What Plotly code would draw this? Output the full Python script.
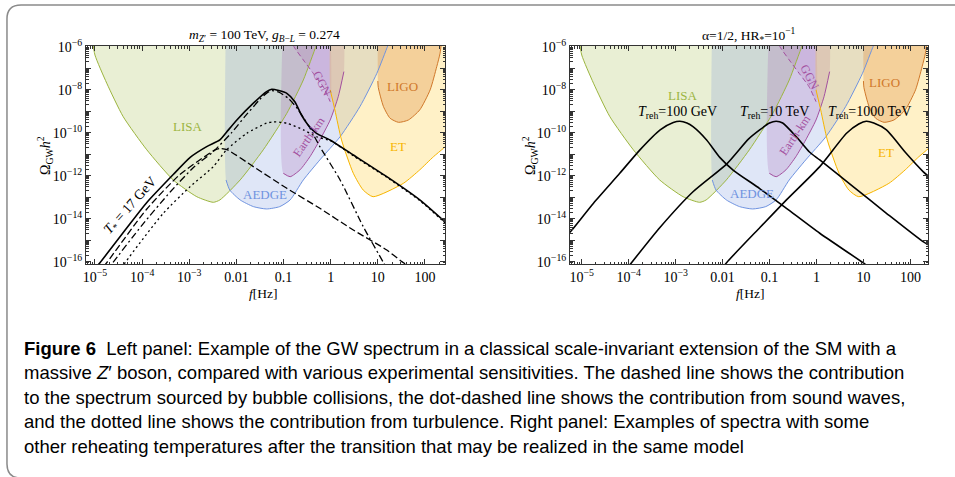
import numpy as np
import plotly.graph_objects as go

# ---- detector sensitivity curves (log10 f[Hz], log10 Omega h^2) ----
lisa_lf = [-5.06, -5.0, -4.75, -4.40, -3.90, -3.34, -2.84, -2.49, -2.35, -1.92, -1.43, -0.93, -0.58, -0.30, -0.22]
lisa_lo = [-5.6, -6.39, -7.70, -9.26, -10.80, -12.20, -12.98, -13.24, -13.13, -12.2, -10.8, -9.1, -7.55, -5.92, -5.5]

aedge_edge = -2.22
aedge_lf = [-2.22, -2.14, -1.92, -1.64, -1.36, -1.08, -0.86, -0.58, -0.23, 0.20, 0.62, 0.98, 1.22, 1.35]
aedge_lo = [-12.2, -12.67, -13.13, -13.44, -13.55, -13.44, -13.13, -12.2, -11.27, -10.19, -8.79, -7.24, -5.92, -5.3]

earth_edge = [-1.005, 0.28]
earth_lf = [-1.005, -0.86, -0.65, -0.44, -0.23, -0.01, 0.16, 0.28]
earth_lo = [-11.89, -12.05, -11.73, -11.12, -10.34, -9.41, -8.33, -7.16]

ggn_edge = -0.01
ggn_lf = [-0.86, -0.78, -0.58, -0.37, -0.16, -0.01]
ggn_lo = [-5.6, -6.0, -6.62, -7.24, -7.86, -8.56]

et_edge = -0.01
et_lf = [-0.01, 0.09, 0.23, 0.48, 0.69, 0.90, 1.54, 1.89, 2.18, 2.39, 2.6]
et_lo = [-8.01, -8.95, -10.34, -11.89, -12.67, -12.98, -12.36, -11.73, -11.12, -10.73, -10.3]

ligo_edge = 1.0
ligo_lf = [1.0, 1.01, 1.12, 1.26, 1.44, 1.65, 1.89, 2.11, 2.25, 2.32, 2.36]
ligo_lo = [-7.6, -7.9, -8.79, -9.33, -9.52, -9.41, -8.94, -8.01, -6.93, -6.31, -5.6]

# ---- left panel spectra ----
tot_lf = [-5.3, -4.894, -4.33, -3.9, -3.34, -2.98, -2.63, -2.35, -2.21, -1.99, -1.64, -1.36, -1.25, -1.1, -0.93, -0.76, -0.62, -0.48, -0.30, -0.015, 0.48, 1.19, 1.89, 2.5]
tot_lo = [-17.1, -16.05, -14.45, -13.25, -11.95, -11.15, -10.65, -10.34, -9.98, -9.41, -8.63, -8.09, -7.98, -8.04, -8.17, -8.56, -9.18, -9.64, -10.03, -10.34, -11.04, -12.05, -13.13, -14.3]

bub_lf = [-4.95, -4.75, -3.9, -3.2, -2.63, -2.45, -2.35, -2.2, -1.64, -0.93, -0.23, 0.48, 1.19, 1.51, 1.8]
bub_lo = [-16.6, -16.05, -13.55, -11.95, -11.05, -10.8, -10.74, -10.79, -11.58, -12.59, -13.52, -14.53, -15.46, -16.0, -16.4]

sw_lf = [-4.8, -4.62, -4.0, -3.4, -2.9, -2.5, -2.1, -1.8, -1.5, -1.35, -1.25, -1.1, -0.9, -0.7, -0.45, -0.23, 0.2, 0.69, 1.12, 1.4]
sw_lo = [-16.6, -16.05, -14.3, -12.75, -11.6, -10.9, -10.0, -9.2, -8.45, -8.15, -8.05, -8.12, -8.4, -8.9, -9.75, -10.65, -12.2, -14.37, -16.05, -17.2]

turb_lf = [-4.6, -4.36, -3.55, -2.98, -2.49, -2.21, -1.78, -1.36, -1.22, -0.93, -0.58, -0.30, 0.0, 0.48, 1.19, 1.89, 2.5]
turb_lo = [-16.9, -16.05, -13.75, -12.51, -11.58, -10.80, -10.03, -9.56, -9.50, -9.56, -9.87, -10.19, -10.38, -11.08, -12.08, -13.16, -14.35]

# ---- right panel spectra ----
r100_lf = [-5.3, -5.21, -4.75, -4.19, -3.76, -3.33, -3.05, -2.91, -2.76, -2.63, -2.34, -2.06, -1.77, -1.21, -0.64, 0.07, 0.99, 1.2]
r100_lo = [-14.75, -14.53, -13.28, -11.89, -10.80, -9.87, -9.53, -9.47, -9.55, -9.72, -10.34, -11.15, -11.75, -12.6, -13.52, -14.68, -16.05, -16.4]

r10_lf = [-4.1, -3.94, -3.33, -2.63, -1.91, -1.45, -1.21, -1.0, -0.86, -0.72, -0.43, -0.15, 0.07, 0.78, 1.49, 2.27, 2.45]
r10_lo = [-16.5, -16.05, -14.4, -12.75, -11.45, -10.3, -9.87, -9.55, -9.47, -9.55, -10.19, -10.9, -11.27, -12.51, -13.75, -15.07, -15.3]

r1000_lf = [-2.1, -1.915, -1.2, -0.64, 0.07, 0.64, 0.9, 1.06, 1.22, 1.49, 1.91, 2.27, 2.45]
r1000_lo = [-16.6, -16.05, -14.4, -13.13, -11.58, -10.03, -9.6, -9.47, -9.55, -9.87, -10.96, -11.81, -12.15]

x_tickvals = [1e-5, 1e-4, 1e-3, 1e-2, 1e-1, 1, 10, 100]
x_ticktext = ["10<sup>\u22125</sup>", "10<sup>\u22124</sup>", "10<sup>\u22123</sup>", "0.01", "0.1", "1", "10", "100"]
y_tickvals = [10.0**n for n in range(-16, -5)]
y_ticktext = ["10<sup>\u2212%d</sup>" % (-n) if n % 2 == 0 else "" for n in range(-16, -5)]

TOP = -4.5
SERIF = "Liberation Serif, Times New Roman, serif"

C_LISA, F_LISA = "#9cb53f", "rgba(154,180,60,0.22)"
C_AEDGE, F_AEDGE = "#6f93e0", "rgba(110,140,220,0.22)"
C_EARTH, F_EARTH = "#a3509f", "rgba(160,80,170,0.20)"
F_GGN = "rgba(160,80,170,0.14)"
C_ET, F_ET = "#f7b500", "rgba(255,200,30,0.25)"
C_LIGO, F_LIGO = "#d0782a", "rgba(220,140,60,0.32)"

fig = go.Figure()


def pw(v):
    return 10 ** np.array(v, dtype=float)


def region(lf, lo, fill, xa, ya):
    fig.add_trace(go.Scatter(x=pw(lf), y=pw(lo), mode="lines", fill="toself", fillcolor=fill,
                             line=dict(width=0, shape="spline", smoothing=0.6),
                             hoverinfo="skip", xaxis=xa, yaxis=ya))


def curve(lf, lo, color, xa, ya, dash="solid", width=1.3):
    fig.add_trace(go.Scatter(x=pw(lf), y=pw(lo), mode="lines",
                             line=dict(color=color, width=width, dash=dash, shape="spline", smoothing=0.6),
                             hoverinfo="skip", xaxis=xa, yaxis=ya))


for xa, ya in [("x", "y"), ("x2", "y2")]:
    region(lisa_lf, lisa_lo, F_LISA, xa, ya)
    region([aedge_edge] + aedge_lf, [TOP] + aedge_lo, F_AEDGE, xa, ya)
    region([earth_edge[0]] + earth_lf + [earth_edge[1]], [TOP] + earth_lo + [TOP], F_EARTH, xa, ya)
    region(ggn_lf + [ggn_edge], ggn_lo + [TOP], F_GGN, xa, ya)
    region([et_edge] + et_lf + [et_lf[-1]], [TOP] + et_lo + [TOP], F_ET, xa, ya)
    region([ligo_edge] + ligo_lf, [TOP] + ligo_lo, F_LIGO, xa, ya)
    curve(lisa_lf, lisa_lo, C_LISA, xa, ya, width=1)
    curve(aedge_lf, aedge_lo, C_AEDGE, xa, ya, width=1)
    curve(earth_lf, earth_lo, C_EARTH, xa, ya, width=1)
    curve(ggn_lf, ggn_lo, C_EARTH, xa, ya, dash="5px,3px", width=1)
    curve(et_lf, et_lo, C_ET, xa, ya, width=1)
    curve(ligo_lf, ligo_lo, C_LIGO, xa, ya, width=1)

curve(bub_lf, bub_lo, "black", "x", "y", dash="7px,3px")
curve(sw_lf, sw_lo, "black", "x", "y", dash="7px,3px,2px,3px")
curve(turb_lf, turb_lo, "black", "x", "y", dash="2px,3px")
curve(tot_lf, tot_lo, "black", "x", "y", width=1.6)

curve(r100_lf, r100_lo, "black", "x2", "y2", width=1.6)
curve(r10_lf, r10_lo, "black", "x2", "y2", width=1.6)
curve(r1000_lf, r1000_lo, "black", "x2", "y2", width=1.6)

minor_x = [k * 10.0**n for n in range(-6, 3) for k in range(2, 10)]
minor_y = [k * 10.0**n for n in range(-17, -5) for k in range(2, 10)]

axis_common = dict(type="log", showgrid=False, zeroline=False, showline=True, linecolor="#333",
                   linewidth=1, mirror="ticks", ticks="inside", ticklen=5, tickcolor="#333",
                   automargin=False,
                   tickfont=dict(family=SERIF, size=14, color="black"))
xax = dict(axis_common, tickmode="array", tickvals=x_tickvals, ticktext=x_ticktext,
           minor=dict(ticks="inside", ticklen=2.5, tickvals=minor_x, tickcolor="#333", showgrid=False))
yax = dict(axis_common, tickmode="array", tickvals=y_tickvals, ticktext=y_ticktext, range=[-16.11, -5.97],
           minor=dict(ticks="inside", ticklen=2.5, tickvals=minor_y, tickcolor="#333", showgrid=False))

fig.update_layout(
    width=955, height=477, autosize=False,
    margin=dict(l=0, r=0, t=0, b=0, pad=0, autoexpand=False),
    paper_bgcolor="white", plot_bgcolor="white",
    showlegend=False,
    font=dict(family=SERIF, size=12, color="black"),
    xaxis=dict(xax, domain=[86 / 955, 445 / 955], range=[-5.19, 2.425], anchor="y"),
    yaxis=dict(yax, domain=[1 - 264 / 477, 1 - 46 / 477], anchor="x"),
    xaxis2=dict(xax, domain=[570 / 955, 928 / 955], range=[-5.25, 2.375], anchor="y2"),
    yaxis2=dict(yax, domain=[1 - 264 / 477, 1 - 46 / 477], anchor="x2"),
)

ann = []


def label(text, lf, lo, color, xa, ya, size=13, angle=0):
    ann.append(dict(text=text, x=lf, y=lo, xref=xa, yref=ya, showarrow=False,
                    font=dict(family=SERIF, size=size, color=color), textangle=angle))


# left panel labels
label("LISA", -3.02, -9.72, C_LISA, "x", "y")
label("AEDGE", -1.39, -12.9, C_AEDGE, "x", "y")
label("GGN", -0.19, -7.7, C_EARTH, "x", "y", size=12, angle=62)
label("Earth-km", -0.47, -10.19, C_EARTH, "x", "y", size=12, angle=-55)
label("LIGO", 1.53, -7.84, C_LIGO, "x", "y")
label("ET", 1.43, -10.65, C_ET, "x", "y")
label("<i>T</i><sub>*</sub> = 17 GeV", -4.23, -13.4, "black", "x", "y", size=14, angle=-48)

# right panel labels
label("LISA", -2.85, -8.25, C_LISA, "x2", "y2")
label("AEDGE", -1.38, -12.85, C_AEDGE, "x2", "y2")
label("GGN", -0.14, -7.4, C_EARTH, "x2", "y2", size=12, angle=62)
label("Earth-km", -0.46, -10.11, C_EARTH, "x2", "y2", size=12, angle=-56)
label("LIGO", 1.45, -7.69, C_LIGO, "x2", "y2")
label("ET", 1.49, -10.94, C_ET, "x2", "y2")
label("<i>T</i><sub>reh</sub>=100 GeV", -2.95, -9.07, "black", "x2", "y2", size=14)
label("<i>T</i><sub>reh</sub>=10 TeV", -0.887, -9.07, "black", "x2", "y2", size=14)
label("<i>T</i><sub>reh</sub>=1000 TeV", 1.13, -9.07, "black", "x2", "y2", size=14)


def paper_text(text, px, py, size=12, angle=0, anchor="center", family=SERIF):
    ann.append(dict(text=text, x=px / 955, y=1 - py / 477, xref="paper", yref="paper", showarrow=False,
                    xanchor=anchor, yanchor="middle", textangle=angle,
                    font=dict(family=family, size=size, color="black")))


paper_text("<i>m</i><sub><i>Z</i>\u2032</sub> = 100 TeV, <i>g</i><sub><i>B</i>\u2212<i>L</i></sub> = 0.274", 264, 36, size=13.5)
paper_text("\u03b1=1/2, HR<sub>*</sub>=10<sup>\u22121</sup>", 749, 35, size=13.5)
paper_text("\u03a9<sub>GW</sub><i>h</i><sup>2</sup>", 45, 156, size=14, angle=-90)
paper_text("\u03a9<sub>GW</sub><i>h</i><sup>2</sup>", 530, 156, size=14, angle=-90)
paper_text("<i>f</i>[Hz]", 263, 293, size=13.5)
paper_text("<i>f</i>[Hz]", 750, 293, size=13.5)

CAP = "Liberation Sans, Arial, sans-serif"
caption = [
    "<b>Figure 6</b>\u00a0\u00a0Left panel: Example of the GW spectrum in a classical scale-invariant extension of the SM with a",
    "massive <i>Z</i>\u2032 boson, compared with various experimental sensitivities. The dashed line shows the contribution",
    "to the spectrum sourced by bubble collisions, the dot-dashed line shows the contribution from sound waves,",
    "and the dotted line shows the contribution from turbulence. Right panel: Examples of spectra with some",
    "other reheating temperatures after the transition that may be realized in the same model",
]
for i, line in enumerate(caption):
    paper_text(line, 22, 348 + i * 24.6, size=18.5, anchor="left", family=CAP)

fig.update_layout(annotations=ann)

# rounded frame around the figure block (bottom edge just below the window)
fig.add_shape(type="path", xref="paper", yref="paper",
              path="M 1.01,0.9895 L 0.0220,0.9895 Q 0.0073,0.9895 0.0073,0.9602 "
                   "L 0.0073,0.0273 Q 0.0073,-0.0021 0.0220,-0.0021 L 1.01,-0.0021",
              line=dict(color="#8a8a8a", width=1.5))

fig.write_html("out.html", config={"displayModeBar": False},
               post_script="document.body.style.margin='0px';"
                           "document.documentElement.style.overflow='hidden';")
